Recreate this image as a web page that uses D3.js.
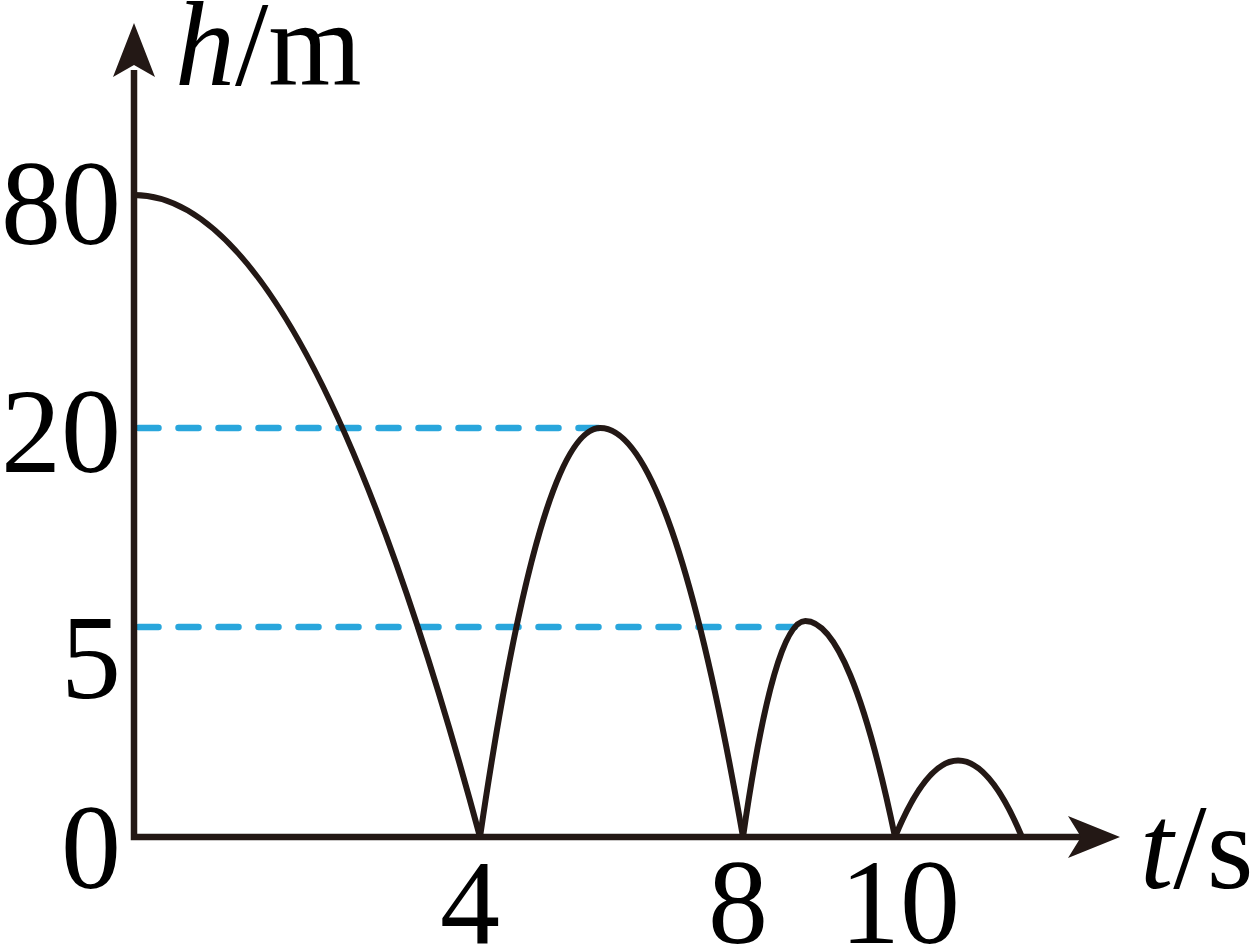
<!DOCTYPE html>
<html>
<head>
<meta charset="utf-8">
<script src="https://cdn.jsdelivr.net/npm/d3@7"></script>
<style>
  html, body { margin: 0; padding: 0; background: #fff; }
  svg { display: block; }
  text { font-family: "Liberation Serif", "Times New Roman", serif; fill: #000; }
</style>
</head>
<body>
<svg id="chart" width="1250" height="950"></svg>
<script>
// ---- data ----
const tTicks = [0, 4, 8, 10];
const tTickLabels = ["4", "8", "10"];      // labels shown under t = 4, 8, 10
const tLabelValues = [4, 8, 10];
const hTicks = [0, 5, 20, 80];
const hTickLabels = ["0", "5", "20", "80"];

// bounce arcs (schematic parabolas)
const arcStartT = [0, 4, 8, 10];
const arcPeakT  = [0, 5.83, 8.82, 10.83];
const arcEndT   = [4, 8, 10, 11.67];
const arcPeakH  = [80, 20, 5.45, 1.82];

// dashed reference lines
const refH    = [20, 5];
const refEndT = [5.83, 8.68];

// ---- layout ----
const ink = "#231815";
const blue = "#29a6dc";
const fontSize = 120;
const yLabelDy = {"80": 49, "20": 44, "5": 71, "0": 51};
const xLabelDx = {"4": -10, "8": -5, "10": 5};
const xLabelBaseline = 943;
const yLabelRight = 121;

const svg = d3.select("#chart");

// schematic (piecewise linear) scales, as in the original drawing
const x = d3.scaleLinear().domain(tTicks).range([134, 480, 743, 895]);
const y = d3.scaleLinear().domain(hTicks).range([837, 627, 428, 195]);

// dashed reference lines
svg.append("g").selectAll("line")
  .data(refH)
  .join("line")
  .attr("x1", x(0) + 4.5)
  .attr("x2", (d, i) => x(refEndT[i]))
  .attr("y1", d => y(d))
  .attr("y2", d => y(d))
  .attr("stroke", blue)
  .attr("stroke-width", 6.5)
  .attr("stroke-linecap", "round")
  .attr("stroke-dasharray", "20,20");

// bounce arcs: each is a parabola (quadratic Bezier halves)
const arcs = arcStartT.map((s, i) => ({s, p: arcPeakT[i], e: arcEndT[i], h: arcPeakH[i]}));
svg.append("g").selectAll("path")
  .data(arcs)
  .join("path")
  .attr("d", d => {
    const p = d3.path();
    const x0 = x(d.s), y0 = y(d.s === d.p ? d.h : 0);
    const xp = x(d.p), yp = y(d.h);
    const x1 = x(d.e), y1 = y(0);
    p.moveTo(x0, y0);
    if (xp > x0) p.quadraticCurveTo((x0 + xp) / 2, yp, xp, yp);
    p.quadraticCurveTo((xp + x1) / 2, yp, x1, y1);
    return p.toString();
  })
  .attr("fill", "none")
  .attr("stroke", ink)
  .attr("stroke-width", 6)
  .attr("stroke-linejoin", "round");

// axes
const ax = x(0), ay = y(0);
svg.append("path")
  .attr("d", `M${ax},70 L${ax},${ay} L1085,${ay}`)
  .attr("fill", "none")
  .attr("stroke", ink)
  .attr("stroke-width", 6.5)
  .attr("stroke-linejoin", "miter");

// arrow heads
svg.append("path")
  .attr("d", `M${ax},23 L${ax + 21},77 L${ax},65 L${ax - 21},77 Z`)
  .attr("fill", ink);
svg.append("path")
  .attr("d", `M1120,${ay} L1068,${ay - 21} L1081,${ay} L1068,${ay + 21} Z`)
  .attr("fill", ink);

// y tick labels
svg.append("g").selectAll("text")
  .data(hTicks)
  .join("text")
  .attr("x", yLabelRight)
  .attr("y", (d, i) => y(d) + yLabelDy[hTickLabels[i]])
  .attr("text-anchor", "end")
  .attr("font-size", fontSize)
  .text((d, i) => hTickLabels[i]);

// x tick labels
svg.append("g").selectAll("text")
  .data(tLabelValues)
  .join("text")
  .attr("x", (d, i) => x(d) + xLabelDx[tTickLabels[i]])
  .attr("y", xLabelBaseline)
  .attr("text-anchor", "middle")
  .attr("font-size", fontSize)
  .text((d, i) => tTickLabels[i]);

// axis titles
const yt = svg.append("text").attr("x", 175).attr("y", 85).attr("font-size", fontSize);
yt.append("tspan").attr("font-style", "italic").text("h");
yt.append("tspan").text("/m");

const xt = svg.append("text").attr("x", 1140).attr("y", 888).attr("font-size", fontSize);
xt.append("tspan").attr("font-style", "italic").text("t");
xt.append("tspan").text("/s");
</script>
</body>
</html>
